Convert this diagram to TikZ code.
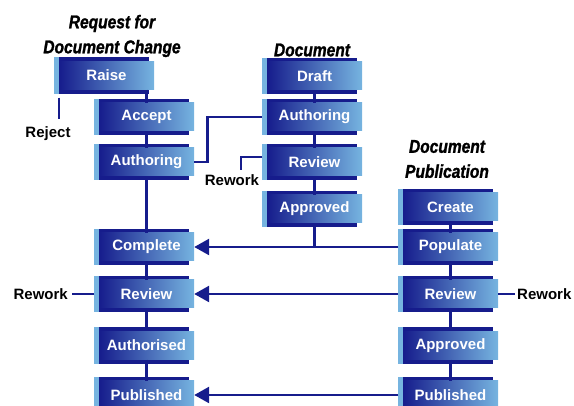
\documentclass[tikz,border=0pt]{standalone}
\usepackage{fontspec}
\setmainfont{Liberation Sans}
\newfontfamily\headfont[FakeStretch=0.84,FakeBold=1.3]{Liberation Sans}
\usepackage{tikz}
\usetikzlibrary{calc,arrows.meta,backgrounds}
\definecolor{navy}{RGB}{22,28,140}
\definecolor{paleblue}{RGB}{118,180,224}

\begin{document}
\begin{tikzpicture}[x=1pt,y=-1pt,
    stage/.style={minimum width=95pt,minimum height=28pt,inner sep=0pt,
      left color=navy,right color=paleblue,text=white,
      font=\fontsize{15}{18}\selectfont\bfseries},
    note/.style={font=\fontsize{15}{18}\selectfont\bfseries,inner sep=2pt},
    head/.style={font=\headfont\fontsize{18.5}{25}\selectfont\bfseries\itshape,
      align=center,inner sep=0pt},
    link/.style={draw=navy,line width=2.6pt},
    push/.style={link,-{Triangle[length=15pt,width=16pt]},shorten <=4.5pt}]
    \useasboundingbox (0,0) rectangle (574,406);

    % headings
    \node[head] (reqhead) at (112,36)  {Request for\\Document Change};
    \node[head] (dochead) at (312,50)  {Document};
    \node[head] (pubhead) at (447,159) {Document\\Publication};

    % request for document change
    \node[stage] (raise)  at (106.5,75.5) {Raise};
    \node[stage] (accept) at (146.5,117)  {Accept};
    \node[stage] (authA)  at (146.5,162)  {Authoring};
    \node[stage] (compl)  at (146.5,247)  {Complete};
    \node[stage] (revA)   at (146.5,294)  {Review};
    \node[stage] (auth)   at (146.5,345.5){Authorised};
    \node[stage] (pubA)   at (146.5,395)  {Published};

    % document
    \node[stage] (draft)  at (314.5,76)   {Draft};
    \node[stage] (authB)  at (314.5,117)  {Authoring};
    \node[stage] (revB)   at (314.5,162)  {Review};
    \node[stage] (apprB)  at (314.5,209)  {Approved};

    % document publication
    \node[stage] (create) at (450.5,207)  {Create};
    \node[stage] (popul)  at (450.5,247)  {Populate};
    \node[stage] (revC)   at (450.5,294)  {Review};
    \node[stage] (apprC)  at (450.5,345.5){Approved};
    \node[stage] (pubC)   at (450.5,395)  {Published};

    \node[note] (reject)  at (48,134) {Reject};
    \node[note] (reworkB) at (232,180) {Rework};
    \node[note,anchor=east] (reworkA) at (70,294) {Rework};
    \node[note,anchor=west] (reworkC) at (515,294) {Rework};

    \begin{scope}[on background layer]
      \foreach \n in {raise,accept,authA,compl,revA,auth,pubA,
                      draft,authB,revB,apprB,create,popul,revC,apprC,pubC} {
        \fill[navy] ($(\n.north west)+(-4.5,-4)$) rectangle ($(\n.south east)+(-5.5,4)$);
        \fill[paleblue] ($(\n.north west)+(-4.5,-4)$) rectangle ($(\n.south west)+(0,4)$);
      }
    \end{scope}

    \draw[link] (raise.south -| accept) -- (accept);
    \foreach \a/\b in {accept/authA,authA/compl,compl/revA,revA/auth,auth/pubA,
                       draft/authB,authB/revB,revB/apprB,
                       create/popul,popul/revC,revC/apprC,apprC/pubC}
      \draw[link] (\a) -- (\b);
    \draw[link] (apprB) -- (apprB |- popul);

    \draw[link] (authA.east) -- ++(13,0) |- ([shift={(-4.5,0)}]authB.west);
    \draw[link] ([shift={(-4.5,-5)}]revB.west) -| ([shift={(9,-2)}]reworkB.north);
    \draw[link,shorten >=6pt] ($(raise.south west)+(0,8)$) -- (raise.south west |- reject.north);
    \draw[link,shorten <=4.5pt,shorten >=2pt] (revA.west) -- (reworkA.east);
    \draw[link] (revC) -- (reworkC);

    \draw[push] (popul) -- (compl);
    \draw[push] (revC)  -- (revA);
    \draw[push] (pubC)  -- (pubA);
\end{tikzpicture}
\end{document}
